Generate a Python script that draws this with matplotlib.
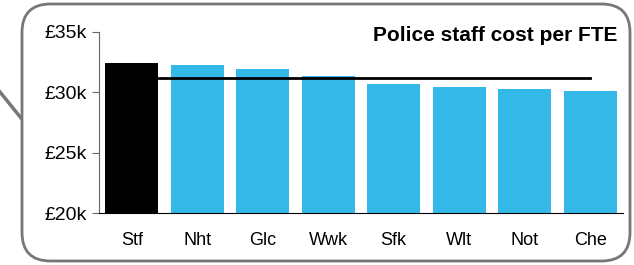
import matplotlib.pyplot as plt
from matplotlib.patches import FancyBboxPatch
from matplotlib.lines import Line2D

forces = ['Stf', 'Nht', 'Glc', 'Wwk', 'Sfk', 'Wlt', 'Not', 'Che']
cost_k = [32.43, 32.24, 31.93, 31.33, 30.69, 30.44, 30.28, 30.11]
average_k = 31.22
yticks = [20, 25, 30, 35]

plt.rcParams['font.family'] = ['Liberation Sans', 'DejaVu Sans']

W, H = 634, 265
fig = plt.figure(figsize=(W / 100, H / 100), dpi=100)

# rounded callout frame and pointer
frame = FancyBboxPatch((22 / W, 4 / H), 608 / W, 257 / H,
                       boxstyle='round,pad=0,rounding_size=0.045',
                       transform=fig.transFigure, facecolor='white',
                       edgecolor='#777777', linewidth=2, mutation_aspect=W / H,
                       zorder=-2)
fig.patches.append(frame)
fig.lines.append(Line2D([0, 21 / W], [1 - 92 / H, 1 - 118 / H],
                        transform=fig.transFigure, color='#777777', linewidth=2.5,
                        zorder=-2))

ax = fig.add_axes([99 / W, 1 - 213 / H, 524 / W, 181 / H])
ax.set_facecolor('none')
ax.set_zorder(1)

colours = ['black'] + ['#33b8e7'] * (len(forces) - 1)
ax.bar(range(len(forces)), cost_k, width=0.81, color=colours, zorder=2)
ax.plot([0, len(forces) - 1], [average_k, average_k], color='black', linewidth=2, zorder=3)

ax.set_xlim(-0.5, len(forces) - 0.5)
ax.set_ylim(20, 35)
ax.set_yticks(yticks)
ax.set_yticklabels(['£%dk' % v for v in yticks], fontsize=14)
ax.set_xticks(range(len(forces)))
ax.set_xticklabels(forces, fontsize=13)
ax.tick_params(axis='x', length=0, pad=14)
ax.tick_params(axis='y', length=5, color='#666666', pad=4)

for side in ['top', 'right']:
    ax.spines[side].set_visible(False)
ax.spines['left'].set_color('#666666')
ax.spines['bottom'].set_color('black')

ax.text(0.99, 0.948, 'Police staff cost per FTE', transform=ax.transAxes,
        ha='right', va='baseline', fontsize=15, fontweight='bold')

fig.savefig('out.png', dpi=100)
